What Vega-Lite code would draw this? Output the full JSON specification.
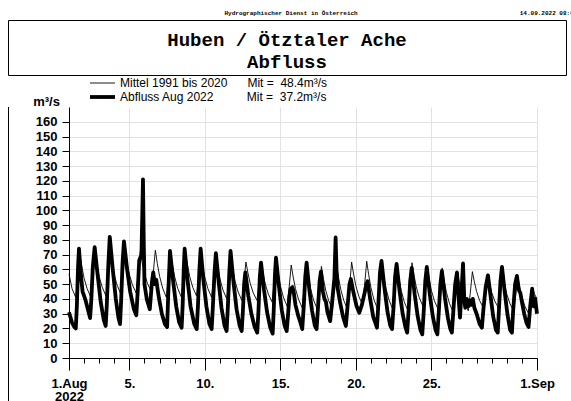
{
  "$schema": "https://vega.github.io/schema/vega-lite/v6.json",
  "padding": {"left": 7, "top": 9, "right": 0, "bottom": 0},
  "background": "white",
  "title": {
    "text": "Hydrographischer Dienst in Österreich\u00a0\u00a0\u00a0\u00a0\u00a0\u00a0\u00a0\u00a0\u00a0\u00a0\u00a0\u00a0\u00a0\u00a0\u00a0\u00a0\u00a0\u00a0\u00a0\u00a0\u00a0\u00a0\u00a0\u00a0\u00a0\u00a0\u00a0\u00a0\u00a0\u00a0\u00a0\u00a0\u00a0\u00a0\u00a0\u00a0\u00a0\u00a0\u00a0\u00a0\u00a0\u00a0\u00a0\u00a0\u00a014.09.2022 08:02",
    "anchor": "start",
    "dx": 217,
    "font": "Liberation Mono",
    "fontSize": 6,
    "fontWeight": "bold",
    "color": "black",
    "offset": 4
  },
  "spacing": 1,
  "resolve": {"legend": {"strokeWidth": "independent"}},
  "vconcat": [
    {
      "width": 558,
      "height": 55,
      "view": {"stroke": "black", "strokeWidth": 1, "fill": null},
      "data": {"values": [{}]},
      "mark": {
        "type": "text",
        "text": ["Huben / Ötztaler Ache", "Abfluss"],
        "font": "Liberation Mono",
        "fontWeight": "bold",
        "fontSize": 19,
        "lineHeight": 22,
        "baseline": "middle",
        "align": "center",
        "color": "black",
        "dy": -8
      }
    },
    {
      "spacing": 23,
      "resolve": {"legend": {"strokeWidth": "independent"}},
      "hconcat": [
        {
          "width": 1,
          "height": 340,
          "view": {"stroke": null, "fill": "black"},
          "data": {"values": [{}]},
          "mark": {"type": "text", "text": ""}
        },
        {
          "width": 468,
          "height": 251,
          "data": {"values": [
      {"s":"M","d":0,"q":57},{"s":"M","d":0.2,"q":47},{"s":"M","d":0.45,"q":41},{"s":"M","d":0.58,"q":54},{"s":"M","d":0.72,"q":70},{"s":"M","d":0.85,"q":62},
      {"s":"M","d":1,"q":54},{"s":"M","d":1.2,"q":47},{"s":"M","d":1.45,"q":41},{"s":"M","d":1.58,"q":54.5},{"s":"M","d":1.72,"q":71},{"s":"M","d":1.85,"q":63},
      {"s":"M","d":2,"q":55},{"s":"M","d":2.2,"q":48},{"s":"M","d":2.45,"q":42},{"s":"M","d":2.58,"q":55.5},{"s":"M","d":2.72,"q":72},{"s":"M","d":2.85,"q":64},
      {"s":"M","d":3,"q":56},{"s":"M","d":3.2,"q":49},{"s":"M","d":3.45,"q":43},{"s":"M","d":3.58,"q":56},{"s":"M","d":3.72,"q":72},{"s":"M","d":3.85,"q":64},
      {"s":"M","d":4,"q":56.6},{"s":"M","d":4.2,"q":49.6},{"s":"M","d":4.45,"q":44},{"s":"M","d":4.58,"q":56.6},{"s":"M","d":4.72,"q":72},{"s":"M","d":4.85,"q":64.4},
      {"s":"M","d":5,"q":57.2},{"s":"M","d":5.2,"q":50.4},{"s":"M","d":5.45,"q":45},{"s":"M","d":5.58,"q":57.6},{"s":"M","d":5.72,"q":73},{"s":"M","d":5.85,"q":64},
      {"s":"M","d":6,"q":55.4},{"s":"M","d":6.2,"q":47.4},{"s":"M","d":6.45,"q":41},{"s":"M","d":6.58,"q":55},{"s":"M","d":6.72,"q":72},{"s":"M","d":6.85,"q":63.3},
      {"s":"M","d":7,"q":55},{"s":"M","d":7.2,"q":47.2},{"s":"M","d":7.45,"q":41},{"s":"M","d":7.58,"q":54.5},{"s":"M","d":7.72,"q":71},{"s":"M","d":7.85,"q":62.9},
      {"s":"M","d":8,"q":55},{"s":"M","d":8.2,"q":47.8},{"s":"M","d":8.45,"q":42},{"s":"M","d":8.58,"q":55},{"s":"M","d":8.72,"q":71},{"s":"M","d":8.85,"q":62.6},
      {"s":"M","d":9,"q":54.5},{"s":"M","d":9.2,"q":47},{"s":"M","d":9.45,"q":41},{"s":"M","d":9.58,"q":54},{"s":"M","d":9.72,"q":70},{"s":"M","d":9.85,"q":61.6},
      {"s":"M","d":10,"q":53.5},{"s":"M","d":10.2,"q":46},{"s":"M","d":10.45,"q":40},{"s":"M","d":10.58,"q":52.6},{"s":"M","d":10.72,"q":68},{"s":"M","d":10.85,"q":59.9},
      {"s":"M","d":11,"q":52},{"s":"M","d":11.2,"q":44.8},{"s":"M","d":11.45,"q":39},{"s":"M","d":11.58,"q":50.7},{"s":"M","d":11.72,"q":65},{"s":"M","d":11.85,"q":57.7},
      {"s":"M","d":12,"q":50.7},{"s":"M","d":12.2,"q":44.2},{"s":"M","d":12.45,"q":39},{"s":"M","d":12.58,"q":50.7},{"s":"M","d":12.72,"q":65},{"s":"M","d":12.85,"q":57.4},
      {"s":"M","d":13,"q":50.2},{"s":"M","d":13.2,"q":43.4},{"s":"M","d":13.45,"q":38},{"s":"M","d":13.58,"q":50.6},{"s":"M","d":13.72,"q":66},{"s":"M","d":13.85,"q":57.3},
      {"s":"M","d":14,"q":49},{"s":"M","d":14.2,"q":41.2},{"s":"M","d":14.45,"q":35},{"s":"M","d":14.58,"q":47.6},{"s":"M","d":14.72,"q":63},{"s":"M","d":14.85,"q":54.9},
      {"s":"M","d":15,"q":47},{"s":"M","d":15.2,"q":39.8},{"s":"M","d":15.45,"q":34},{"s":"M","d":15.58,"q":47.5},{"s":"M","d":15.72,"q":64},{"s":"M","d":15.85,"q":55.3},
      {"s":"M","d":16,"q":47},{"s":"M","d":16.2,"q":39.2},{"s":"M","d":16.45,"q":33},{"s":"M","d":16.58,"q":46},{"s":"M","d":16.72,"q":62},{"s":"M","d":16.85,"q":53.9},
      {"s":"M","d":17,"q":46},{"s":"M","d":17.2,"q":38.8},{"s":"M","d":17.45,"q":33},{"s":"M","d":17.58,"q":46.5},{"s":"M","d":17.72,"q":63},{"s":"M","d":17.85,"q":54.6},
      {"s":"M","d":18,"q":46.5},{"s":"M","d":18.2,"q":39},{"s":"M","d":18.45,"q":33},{"s":"M","d":18.58,"q":47.4},{"s":"M","d":18.72,"q":65},{"s":"M","d":18.85,"q":56.9},
      {"s":"M","d":19,"q":49},{"s":"M","d":19.2,"q":41.8},{"s":"M","d":19.45,"q":36},{"s":"M","d":19.58,"q":49.3},{"s":"M","d":19.72,"q":65.5},{"s":"M","d":19.85,"q":56.4},
      {"s":"M","d":20,"q":47.6},{"s":"M","d":20.2,"q":39.5},{"s":"M","d":20.45,"q":33},{"s":"M","d":20.58,"q":47},{"s":"M","d":20.72,"q":64},{"s":"M","d":20.85,"q":55.3},
      {"s":"M","d":21,"q":47},{"s":"M","d":21.2,"q":39.2},{"s":"M","d":21.45,"q":33},{"s":"M","d":21.58,"q":46.5},{"s":"M","d":21.72,"q":63},{"s":"M","d":21.85,"q":54.3},
      {"s":"M","d":22,"q":46},{"s":"M","d":22.2,"q":38.2},{"s":"M","d":22.45,"q":32},{"s":"M","d":22.58,"q":46.6},{"s":"M","d":22.72,"q":64.5},{"s":"M","d":22.85,"q":56.2},
      {"s":"M","d":23,"q":48.3},{"s":"M","d":23.2,"q":40.9},{"s":"M","d":23.45,"q":35},{"s":"M","d":23.58,"q":47.2},{"s":"M","d":23.72,"q":62},{"s":"M","d":23.85,"q":53.9},
      {"s":"M","d":24,"q":46},{"s":"M","d":24.2,"q":38.8},{"s":"M","d":24.45,"q":33},{"s":"M","d":24.58,"q":45.6},{"s":"M","d":24.72,"q":61},{"s":"M","d":24.85,"q":52.6},
      {"s":"M","d":25,"q":44.5},{"s":"M","d":25.2,"q":37},{"s":"M","d":25.45,"q":31},{"s":"M","d":25.58,"q":43.6},{"s":"M","d":25.72,"q":59},{"s":"M","d":25.85,"q":51.4},
      {"s":"M","d":26,"q":44.2},{"s":"M","d":26.2,"q":37.4},{"s":"M","d":26.45,"q":32},{"s":"M","d":26.58,"q":44},{"s":"M","d":26.72,"q":58.5},{"s":"M","d":26.85,"q":51.6},
      {"s":"M","d":27,"q":45},{"s":"M","d":27.2,"q":38.9},{"s":"M","d":27.45,"q":34},{"s":"M","d":27.58,"q":44.4},{"s":"M","d":27.72,"q":57},{"s":"M","d":27.85,"q":50.6},
      {"s":"M","d":28,"q":44.4},{"s":"M","d":28.2,"q":38.6},{"s":"M","d":28.45,"q":34},{"s":"M","d":28.58,"q":44.4},{"s":"M","d":28.72,"q":57},{"s":"M","d":28.85,"q":50},
      {"s":"M","d":29,"q":43.3},{"s":"M","d":29.2,"q":37},{"s":"M","d":29.45,"q":32},{"s":"M","d":29.58,"q":42.4},{"s":"M","d":29.72,"q":55},{"s":"M","d":29.85,"q":48},
      {"s":"M","d":30,"q":41.3},{"s":"M","d":30.2,"q":35},{"s":"M","d":30.45,"q":30},{"s":"M","d":30.58,"q":37.6},{"s":"M","d":30.72,"q":47},{"s":"M","d":30.85,"q":43},{"s":"M","d":31,"q":40},
      {"s":"A","d":0,"q":31},{"s":"A","d":0.2,"q":24},{"s":"A","d":0.35,"q":21},{"s":"A","d":0.45,"q":20},{"s":"A","d":0.52,"q":35},{"s":"A","d":0.6,"q":62},{"s":"A","d":0.66,"q":74},{"s":"A","d":0.8,"q":55},{"s":"A","d":0.9,"q":45},{"s":"A","d":1.0,"q":42},{"s":"A","d":1.1,"q":39},{"s":"A","d":1.2,"q":35},{"s":"A","d":1.3,"q":31},{"s":"A","d":1.4,"q":27},
      {"s":"A","d":1.48,"q":40},{"s":"A","d":1.58,"q":62},{"s":"A","d":1.7,"q":75},{"s":"A","d":1.9,"q":56},{"s":"A","d":2.1,"q":38},{"s":"A","d":2.3,"q":26},{"s":"A","d":2.43,"q":21.7},
      {"s":"A","d":2.5,"q":35},{"s":"A","d":2.6,"q":62},{"s":"A","d":2.7,"q":82},{"s":"A","d":2.9,"q":60},{"s":"A","d":3.1,"q":40},{"s":"A","d":3.28,"q":27},{"s":"A","d":3.38,"q":23},
      {"s":"A","d":3.45,"q":38},{"s":"A","d":3.55,"q":65},{"s":"A","d":3.64,"q":79},{"s":"A","d":3.85,"q":60},{"s":"A","d":4.05,"q":45},{"s":"A","d":4.3,"q":33},{"s":"A","d":4.46,"q":29},
      {"s":"A","d":4.55,"q":45},{"s":"A","d":4.65,"q":66},{"s":"A","d":4.8,"q":70},{"s":"A","d":4.85,"q":95},{"s":"A","d":4.9,"q":121},{"s":"A","d":4.95,"q":80},{"s":"A","d":5.0,"q":50},{"s":"A","d":5.15,"q":40},{"s":"A","d":5.35,"q":33},
      {"s":"A","d":5.5,"q":52},{"s":"A","d":5.58,"q":58},{"s":"A","d":5.68,"q":50},{"s":"A","d":5.78,"q":53},{"s":"A","d":5.95,"q":41},{"s":"A","d":6.15,"q":30},{"s":"A","d":6.35,"q":23},{"s":"A","d":6.5,"q":21},
      {"s":"A","d":6.58,"q":45},{"s":"A","d":6.69,"q":72.5},{"s":"A","d":6.9,"q":52},{"s":"A","d":7.1,"q":35},{"s":"A","d":7.3,"q":24},{"s":"A","d":7.46,"q":20.5},
      {"s":"A","d":7.53,"q":36},{"s":"A","d":7.6,"q":60},{"s":"A","d":7.66,"q":74},{"s":"A","d":7.85,"q":53},{"s":"A","d":8.05,"q":35},{"s":"A","d":8.3,"q":23},{"s":"A","d":8.46,"q":19.6},
      {"s":"A","d":8.54,"q":35},{"s":"A","d":8.64,"q":60},{"s":"A","d":8.72,"q":74},{"s":"A","d":8.9,"q":53},{"s":"A","d":9.1,"q":35},{"s":"A","d":9.3,"q":23},{"s":"A","d":9.45,"q":19.6},
      {"s":"A","d":9.53,"q":35},{"s":"A","d":9.64,"q":58},{"s":"A","d":9.73,"q":71},{"s":"A","d":9.92,"q":51},{"s":"A","d":10.1,"q":34},{"s":"A","d":10.3,"q":22},{"s":"A","d":10.44,"q":18.3},
      {"s":"A","d":10.52,"q":34},{"s":"A","d":10.62,"q":58},{"s":"A","d":10.7,"q":72.5},{"s":"A","d":10.9,"q":51},{"s":"A","d":11.1,"q":33},{"s":"A","d":11.3,"q":22},{"s":"A","d":11.44,"q":18.3},
      {"s":"A","d":11.52,"q":32},{"s":"A","d":11.6,"q":50},{"s":"A","d":11.68,"q":58},{"s":"A","d":11.88,"q":42},{"s":"A","d":12.08,"q":30},{"s":"A","d":12.3,"q":21},{"s":"A","d":12.47,"q":17.2},
      {"s":"A","d":12.55,"q":32},{"s":"A","d":12.64,"q":55},{"s":"A","d":12.72,"q":64.6},{"s":"A","d":12.92,"q":46},{"s":"A","d":13.12,"q":31},{"s":"A","d":13.32,"q":21},{"s":"A","d":13.49,"q":16.5},
      {"s":"A","d":13.56,"q":32},{"s":"A","d":13.64,"q":56},{"s":"A","d":13.71,"q":68},{"s":"A","d":13.9,"q":49},{"s":"A","d":14.1,"q":32},{"s":"A","d":14.28,"q":22},{"s":"A","d":14.42,"q":18.3},
      {"s":"A","d":14.5,"q":28},{"s":"A","d":14.6,"q":42},{"s":"A","d":14.68,"q":47},{"s":"A","d":14.8,"q":48},{"s":"A","d":14.88,"q":45},{"s":"A","d":15.0,"q":36},{"s":"A","d":15.2,"q":28},{"s":"A","d":15.3,"q":25},{"s":"A","d":15.45,"q":19.6},
      {"s":"A","d":15.55,"q":35},{"s":"A","d":15.65,"q":55},{"s":"A","d":15.74,"q":64.6},{"s":"A","d":15.92,"q":46},{"s":"A","d":16.1,"q":32},{"s":"A","d":16.28,"q":22},{"s":"A","d":16.4,"q":19.6},
      {"s":"A","d":16.48,"q":32},{"s":"A","d":16.6,"q":52},{"s":"A","d":16.69,"q":58.5},{"s":"A","d":16.82,"q":45},{"s":"A","d":16.92,"q":40},{"s":"A","d":17.02,"q":38},{"s":"A","d":17.12,"q":31},{"s":"A","d":17.3,"q":25},
      {"s":"A","d":17.45,"q":40},{"s":"A","d":17.58,"q":54},{"s":"A","d":17.66,"q":81.6},{"s":"A","d":17.72,"q":60},{"s":"A","d":17.8,"q":47},{"s":"A","d":17.95,"q":38},{"s":"A","d":18.15,"q":28},{"s":"A","d":18.34,"q":21.7},
      {"s":"A","d":18.45,"q":35},{"s":"A","d":18.58,"q":50},{"s":"A","d":18.67,"q":53.5},{"s":"A","d":18.85,"q":44},{"s":"A","d":19.05,"q":35},{"s":"A","d":19.23,"q":30.7},
      {"s":"A","d":19.4,"q":36},{"s":"A","d":19.6,"q":45},{"s":"A","d":19.7,"q":50},{"s":"A","d":19.78,"q":52},{"s":"A","d":19.95,"q":40},{"s":"A","d":20.15,"q":28},{"s":"A","d":20.4,"q":20.5},
      {"s":"A","d":20.5,"q":38},{"s":"A","d":20.6,"q":58},{"s":"A","d":20.7,"q":65.7},{"s":"A","d":20.9,"q":47},{"s":"A","d":21.1,"q":31},{"s":"A","d":21.28,"q":22},{"s":"A","d":21.4,"q":19.6},
      {"s":"A","d":21.5,"q":35},{"s":"A","d":21.6,"q":55},{"s":"A","d":21.7,"q":63.7},{"s":"A","d":21.9,"q":45},{"s":"A","d":22.1,"q":30},{"s":"A","d":22.28,"q":21},{"s":"A","d":22.4,"q":17.2},
      {"s":"A","d":22.5,"q":33},{"s":"A","d":22.6,"q":52},{"s":"A","d":22.7,"q":61},{"s":"A","d":22.9,"q":43},{"s":"A","d":23.1,"q":28},{"s":"A","d":23.28,"q":19},{"s":"A","d":23.4,"q":16},
      {"s":"A","d":23.5,"q":32},{"s":"A","d":23.6,"q":52},{"s":"A","d":23.7,"q":61.7},{"s":"A","d":23.9,"q":43},{"s":"A","d":24.1,"q":28},{"s":"A","d":24.28,"q":19},{"s":"A","d":24.4,"q":16},
      {"s":"A","d":24.5,"q":32},{"s":"A","d":24.6,"q":50},{"s":"A","d":24.7,"q":59},{"s":"A","d":24.9,"q":41},{"s":"A","d":25.1,"q":27},{"s":"A","d":25.25,"q":20},{"s":"A","d":25.36,"q":17.2},
      {"s":"A","d":25.46,"q":32},{"s":"A","d":25.58,"q":50},{"s":"A","d":25.7,"q":57.9},{"s":"A","d":25.8,"q":42},{"s":"A","d":25.9,"q":27.3},{"s":"A","d":26.0,"q":45},{"s":"A","d":26.1,"q":64},{"s":"A","d":26.18,"q":40},{"s":"A","d":26.25,"q":34},{"s":"A","d":26.35,"q":40},{"s":"A","d":26.45,"q":35},{"s":"A","d":26.55,"q":39},{"s":"A","d":26.65,"q":36},{"s":"A","d":26.75,"q":40},{"s":"A","d":26.85,"q":34},{"s":"A","d":27.0,"q":30},{"s":"A","d":27.2,"q":23},{"s":"A","d":27.35,"q":20.5},
      {"s":"A","d":27.45,"q":33},{"s":"A","d":27.6,"q":48},{"s":"A","d":27.75,"q":56},{"s":"A","d":27.95,"q":40},{"s":"A","d":28.1,"q":28},{"s":"A","d":28.28,"q":19},{"s":"A","d":28.4,"q":17.2},
      {"s":"A","d":28.48,"q":33},{"s":"A","d":28.58,"q":52},{"s":"A","d":28.68,"q":61.7},{"s":"A","d":28.88,"q":43},{"s":"A","d":29.05,"q":29},{"s":"A","d":29.22,"q":19},{"s":"A","d":29.34,"q":17.2},
      {"s":"A","d":29.42,"q":32},{"s":"A","d":29.55,"q":50},{"s":"A","d":29.67,"q":55.6},{"s":"A","d":29.8,"q":46},{"s":"A","d":29.9,"q":44},{"s":"A","d":30.0,"q":38},{"s":"A","d":30.15,"q":30},{"s":"A","d":30.3,"q":24},{"s":"A","d":30.44,"q":21},
      {"s":"A","d":30.55,"q":35},{"s":"A","d":30.68,"q":47},{"s":"A","d":30.78,"q":35},{"s":"A","d":30.88,"q":40},{"s":"A","d":31.0,"q":30}
          ]},
          "mark": {"type": "line", "strokeJoin": "round", "color": "black"},
          "encoding": {
            "x": {
              "field": "d", "type": "quantitative",
              "scale": {"domain": [0, 31], "nice": false, "zero": false},
              "axis": {
                "title": null,
                "values": [0,1,2,3,4,5,6,7,8,9,10,11,12,13,14,15,16,17,18,19,20,21,22,23,24,25,26,27,28,29,30,31],
                "tickCount": 200,
                "labelExpr": "datum.value == 0 ? ['1.Aug', '2022'] : datum.value == 31 ? '1.Sep' : indexof([4,9,14,19,24], datum.value) >= 0 ? format(datum.value + 1, 'd') + '.' : ''",
                "tickSize": {"condition": {"test": "indexof([0,4,9,14,19,24,31], datum.value) >= 0", "value": 12}, "value": 5},
                "gridOpacity": {"condition": {"test": "indexof([0,4,9,14,19,24,31], datum.value) >= 0", "value": 1}, "value": 0},
                "gridColor": "#e2e2e2",
                "gridWidth": 1,
                "domainColor": "black",
                "tickColor": "black",
                "labelColor": "black",
                "labelFont": "Liberation Sans",
                "labelFontSize": 13,
                "labelFontWeight": "bold",
                "labelLineHeight": 13,
                "labelOverlap": false,
                "labelFlush": false,
                "labelPadding": 7
              }
            },
            "y": {
              "field": "q", "type": "quantitative",
              "scale": {"domain": [0, 170], "nice": false},
              "axis": {
                "values": [0,10,20,30,40,50,60,70,80,90,100,110,120,130,140,150,160],
                "tickCount": 200,
                "title": "m³/s",
                "titleAngle": 0,
                "titleX": -23,
                "titleY": -6,
                "titleAlign": "center",
                "titleBaseline": "middle",
                "titleFont": "Liberation Sans",
                "titleFontSize": 13,
                "titleFontWeight": "bold",
                "titleColor": "black",
                "tickSize": 7,
                "labelPadding": 5,
                "labelOverlap": false,
                "labelFont": "Liberation Sans",
                "labelFontSize": 13,
                "labelFontWeight": "bold",
                "labelColor": "black",
                "gridColor": "#e2e2e2",
                "domainColor": "black",
                "tickColor": "black"
              }
            },
            "strokeWidth": {
              "field": "s",
              "type": "ordinal",
              "scale": {"type": "ordinal", "domain": ["M", "A"], "range": [0.9, 3.8]},
              "legend": {
                "title": null,
                "orient": "none",
                "legendX": 27.5,
                "legendY": -30,
                "symbolType": "M-3.125,0L3.125,0",
                "symbolSize": 64,
                "symbolStrokeColor": "black",
                "symbolFillColor": "transparent",
                "labelFont": "Liberation Sans",
                "labelFontSize": 12,
                "labelColor": "black",
                "labelOffset": 11.5,
                "labelLimit": 500,
                "rowPadding": 0,
                "padding": 0,
                "labelExpr": "datum.label == 'M' ? 'Mittel 1991 bis 2020\u00a0\u00a0\u00a0\u00a0\u00a0\u00a0Mit =\u00a0\u00a048.4m³/s' : 'Abfluss Aug 2022\u00a0\u00a0\u00a0\u00a0\u00a0\u00a0\u00a0\u00a0\u00a0\u00a0Mit =\u00a0\u00a037.2m³/s'"
              }
            }
          }
        }
      ]
    }
  ],
  "config": {
    "view": {"stroke": null},
    "axis": {"domainWidth": 1, "tickWidth": 1}
  }
}
